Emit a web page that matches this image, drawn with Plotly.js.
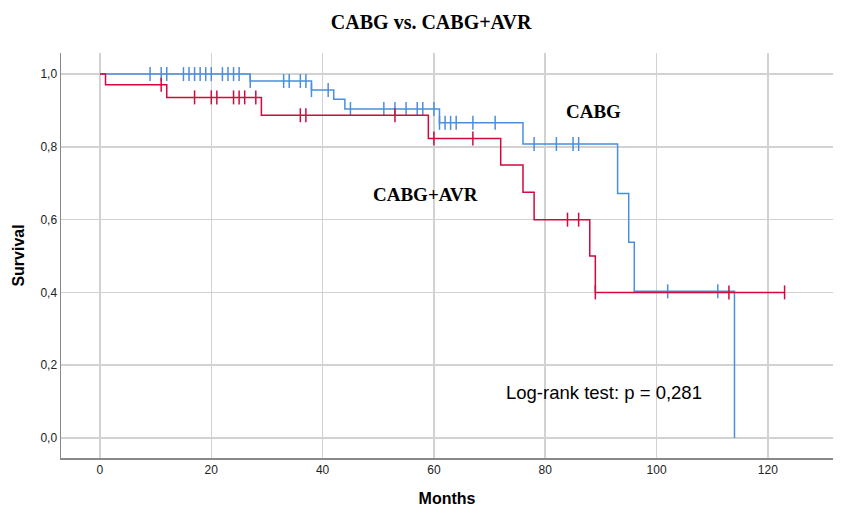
<!DOCTYPE html>
<html>
<head>
<meta charset="utf-8">
<script src="https://cdn.plot.ly/plotly-3.0.1.min.js"></script>
<style>
  html, body { margin: 0; padding: 0; background: #fff; }
  #chart { width: 842px; height: 512px; }
</style>
</head>
<body>
<div id="chart"></div>
<script>
// Kaplan-Meier estimates (months, survival)
const cabgTimes = [0, 27, 38, 42, 44, 61, 76, 93, 95, 96, 114];
const cabgSurv = [1.0, 0.981, 0.956, 0.931, 0.904, 0.866, 0.808, 0.672, 0.538, 0.403, 0.0];
const cabgCensored = [9, 11, 12, 15, 16, 17, 18, 19, 20, 22, 23, 24, 25, 27, 33, 34, 36, 37, 38, 41,
    45, 51, 53, 55, 57, 58, 60, 61, 62, 63, 64, 67, 71, 78, 82, 85, 86, 102, 111];

const avrTimes = [0, 1, 12, 29, 59, 72, 76, 78, 88, 89];
const avrSurv = [1.0, 0.971, 0.936, 0.887, 0.823, 0.75, 0.675, 0.6, 0.5, 0.4];
const avrCensored = [11, 17, 20, 21, 24, 25, 26, 28, 36, 37, 53, 60, 67, 84, 86, 89, 113, 123];

const xTicks = [0, 20, 40, 60, 80, 100, 120];
const yTicks = [0, 0.2, 0.4, 0.6, 0.8, 1.0];

const BLUE = '#4a8ee0';
const RED = '#d3083d';

function stepAt(times, surv, t) {
    let s = surv[0];
    for (let i = 0; i < times.length; i++) { if (times[i] <= t) s = surv[i]; }
    return s;
}

function curveTraces(name, times, surv, censored, color) {
    const end = Math.max(times[times.length - 1], censored[censored.length - 1]);
    const lx = times.slice();
    const ly = surv.slice();
    if (end > lx[lx.length - 1]) { lx.push(end); ly.push(surv[surv.length - 1]); }
    const line = {
        x: lx, y: ly, type: 'scatter', mode: 'lines', name: name,
        line: { color: color, width: 1.5, shape: 'hv' }, hoverinfo: 'skip',
    };
    const marks = {
        x: censored, y: censored.map(t => stepAt(times, surv, t)),
        type: 'scatter', mode: 'markers', name: name + ' censored',
        marker: { symbol: 'line-ns-open', size: 10, color: color, line: { color: color, width: 1.5 } },
    };
    return [line, marks];
}

const data = [
    ...curveTraces('CABG', cabgTimes, cabgSurv, cabgCensored, BLUE),
    ...curveTraces('CABG+AVR', avrTimes, avrSurv, avrCensored, RED),
];

const serifBold = { family: 'Liberation Serif, Times New Roman, serif', size: 19, color: '#000', weight: 'bold' };

const layout = {
    width: 842, height: 512,
    margin: { l: 61, r: 9, t: 53, b: 54 },
    paper_bgcolor: '#fff', plot_bgcolor: '#fff',
    separators: ',.',
    showlegend: false,
    font: { family: 'Liberation Sans, Arial, sans-serif', color: '#222' },
    title: {
        text: 'CABG vs. CABG+AVR', font: { ...serifBold, size: 20 },
        x: 0.512, xanchor: 'center', xref: 'container', y: 0.958, yanchor: 'middle', yref: 'container',
    },
    xaxis: {
        range: [-7, 131.7], tickvals: xTicks, ticks: '',
        showgrid: true, gridcolor: '#d2d2d2', gridwidth: 1.5, zeroline: false,
        showline: true, linecolor: '#888', linewidth: 1.5,
        tickfont: { size: 12, color: '#222' },
        title: { text: 'Months', font: { size: 16, color: '#000', weight: 'bold' }, standoff: 17 },
    },
    yaxis: {
        range: [-0.055, 1.058], tickvals: yTicks, tickformat: '.1f', ticks: '',
        showgrid: true, gridcolor: '#d2d2d2', gridwidth: 1.5, zeroline: false,
        showline: true, linecolor: '#888', linewidth: 1.5,
        tickfont: { size: 12, color: '#222' },
        title: { text: 'Survival', font: { size: 16, color: '#000', weight: 'bold' }, standoff: 12 },
    },
    annotations: [
        { x: 88.6, y: 0.896, xref: 'x', yref: 'y', text: 'CABG', showarrow: false, font: serifBold },
        { x: 58.5, y: 0.668, xref: 'x', yref: 'y', text: 'CABG+AVR', showarrow: false, font: serifBold },
        { x: 90.6, y: 0.124, xref: 'x', yref: 'y', text: 'Log-rank test: p = 0,281', showarrow: false,
          font: { family: 'Liberation Sans, Arial, sans-serif', size: 18.5, color: '#000' } },
    ],
};

Plotly.newPlot('chart', data, layout, { displayModeBar: false, staticPlot: true });
</script>
</body>
</html>
